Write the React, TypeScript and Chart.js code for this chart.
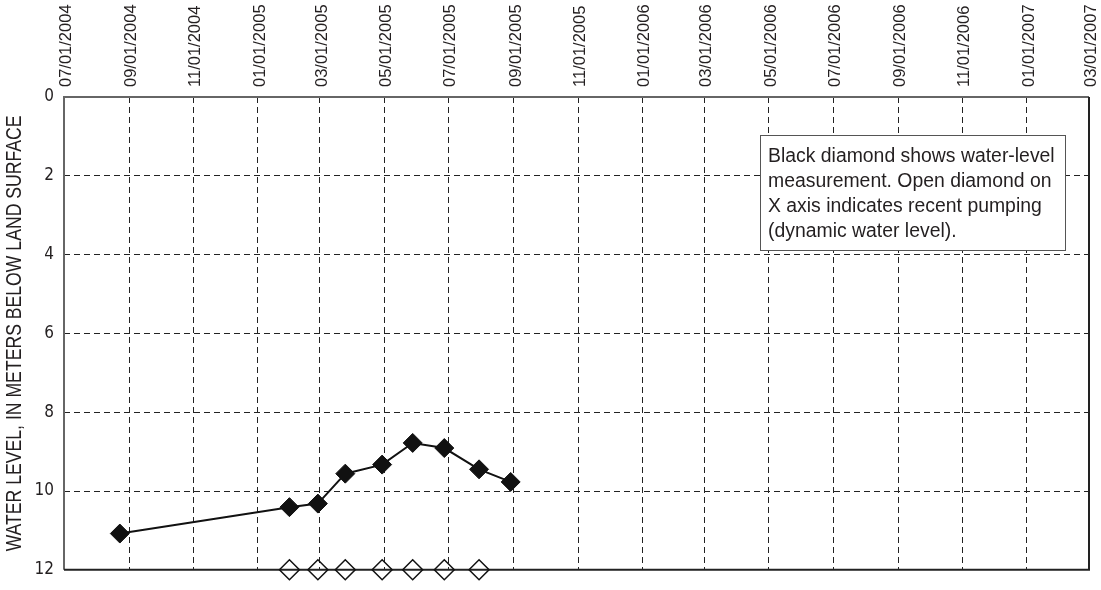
import React, { useEffect, useRef } from "react";
import { Chart, registerables } from "chart.js";

Chart.register(...registerables);

const xTickLabels = [
  "07/01/2004", "09/01/2004", "11/01/2004", "01/01/2005", "03/01/2005", "05/01/2005",
  "07/01/2005", "09/01/2005", "11/01/2005", "01/01/2006", "03/01/2006", "05/01/2006",
  "07/01/2006", "09/01/2006", "11/01/2006", "01/01/2007", "03/01/2007",
];
const yTickValues = [0, 2, 4, 6, 8, 10, 12];

const measurementDates = [
  "08/23/2004", "01/31/2005", "02/27/2005", "03/25/2005", "04/29/2005",
  "05/28/2005", "06/27/2005", "07/30/2005", "08/29/2005",
];
const waterLevels = [11.08, 10.41, 10.32, 9.56, 9.33, 8.78, 8.91, 9.45, 9.77];

const pumpingDates = [
  "01/31/2005", "02/27/2005", "03/25/2005", "04/29/2005",
  "05/28/2005", "06/27/2005", "07/30/2005",
];
const pumpingLevels = [12, 12, 12, 12, 12, 12, 12];

const yTitle = "WATER LEVEL, IN METERS BELOW LAND SURFACE";
const noteLines = [
  "Black diamond shows water-level",
  "measurement. Open diamond on",
  "X axis indicates recent pumping",
  "(dynamic water level).",
];

const toTs = (s: string) => {
  const [m, d, y] = s.split("/").map(Number);
  return Date.UTC(y, m - 1, d);
};

const TEXT = "#231f20";
const NARROW = '"DejaVu Sans Condensed", "Liberation Sans", sans-serif';
const REG = '"Liberation Sans", Arial, sans-serif';

const framePlugin = {
  id: "frame",
  beforeDatasetsDraw(chart: any) {
    const { ctx, chartArea: a } = chart;
    ctx.save();
    ctx.lineWidth = 2;
    ctx.strokeStyle = "#666";
    ctx.beginPath();
    ctx.moveTo(a.left, a.bottom);
    ctx.lineTo(a.left, a.top);
    ctx.lineTo(a.right, a.top);
    ctx.stroke();
    ctx.strokeStyle = "#222";
    ctx.beginPath();
    ctx.moveTo(a.right, a.top);
    ctx.lineTo(a.right, a.bottom);
    ctx.lineTo(a.left, a.bottom);
    ctx.stroke();
    ctx.restore();
  },
};

const titlePlugin = {
  id: "ytitle",
  afterDraw(chart: any) {
    const { ctx, chartArea: a } = chart;
    ctx.save();
    ctx.translate(15, (a.top + a.bottom) / 2);
    ctx.rotate(-Math.PI / 2);
    ctx.scale(0.82, 1);
    ctx.fillStyle = TEXT;
    ctx.font = `21.5px ${REG}`;
    ctx.textAlign = "center";
    ctx.textBaseline = "middle";
    ctx.fillText(yTitle, 0, 0);
    ctx.restore();
  },
};

const notePlugin = {
  id: "note",
  afterDraw(chart: any) {
    const { ctx, chartArea: a } = chart;
    const left = a.right - 329;
    const top = a.top + 38;
    const w = 305;
    const h = 115;
    ctx.save();
    ctx.fillStyle = "#fff";
    ctx.fillRect(left, top, w, h);
    ctx.lineWidth = 1;
    ctx.strokeStyle = "#555";
    ctx.strokeRect(left + 0.5, top + 0.5, w, h);
    ctx.fillStyle = TEXT;
    ctx.font = `19.4px ${REG}`;
    ctx.textBaseline = "alphabetic";
    ctx.textAlign = "left";
    noteLines.forEach((line, i) => {
      ctx.fillText(line, left + 8, top + 27 + i * 25);
    });
    ctx.restore();
  },
};

export default function App() {
  const ref = useRef<HTMLCanvasElement>(null);

  useEffect(() => {
    if (!ref.current) return;
    const tickTs = xTickLabels.map(toTs);
    const chart = new Chart(ref.current, {
      type: "line",
      data: {
        datasets: [
          {
            label: "Water level",
            data: measurementDates.map((d, i) => ({ x: toTs(d), y: waterLevels[i] })),
            borderColor: "#111",
            borderWidth: 2,
            pointStyle: "rectRot",
            pointRadius: 9.5,
            pointBackgroundColor: "#111",
            pointBorderColor: "#111",
            pointBorderWidth: 1,
            tension: 0,
          },
          {
            label: "Pumping",
            data: pumpingDates.map((d, i) => ({ x: toTs(d), y: pumpingLevels[i] })),
            showLine: false,
            pointStyle: "rectRot",
            pointRadius: 10,
            pointBackgroundColor: "rgba(0,0,0,0)",
            pointBorderColor: "#111",
            pointBorderWidth: 1.5,
            clip: false as any,
          },
        ],
      },
      options: {
        animation: false,
        responsive: true,
        maintainAspectRatio: false,
        layout: { padding: { left: 0, right: 12, top: 0, bottom: 10 } },
        plugins: {
          legend: { display: false },
          tooltip: { enabled: false },
        },
        scales: {
          x: {
            type: "linear",
            position: "top",
            min: tickTs[0],
            max: tickTs[tickTs.length - 1],
            afterBuildTicks: (s: any) => {
              s.ticks = tickTs.map((v) => ({ value: v }));
            },
            afterFit: (s: any) => {
              s.height = 97;
            },
            ticks: {
              autoSkip: false,
              minRotation: 90,
              maxRotation: 90,
              padding: 10,
              labelOffset: 22,
              color: TEXT,
              font: { family: REG, size: 16.5 },
              callback: (v: any) => {
                const i = tickTs.indexOf(Number(v));
                return i >= 0 ? xTickLabels[i] : "";
              },
            },
            grid: { color: "#222", lineWidth: 1, drawTicks: false },
            border: { display: false, dash: [6, 4] },
          },
          y: {
            type: "linear",
            reverse: true,
            min: yTickValues[0],
            max: yTickValues[yTickValues.length - 1],
            afterBuildTicks: (s: any) => {
              s.ticks = yTickValues.map((v) => ({ value: v }));
            },
            afterFit: (s: any) => {
              s.width = 64;
            },
            ticks: {
              padding: 10,
              color: TEXT,
              font: { family: NARROW, size: 17 },
            },
            grid: { color: "#222", lineWidth: 1, drawTicks: false },
            border: { display: false, dash: [6, 4] },
            title: { display: false },
          },
        },
      },
      plugins: [framePlugin, titlePlugin, notePlugin],
    });
    return () => chart.destroy();
  }, []);

  return (
    <div style={{ position: "fixed", left: 0, top: 0, width: 1101, height: 590, background: "#fff" }}>
      <canvas ref={ref} />
    </div>
  );
}
